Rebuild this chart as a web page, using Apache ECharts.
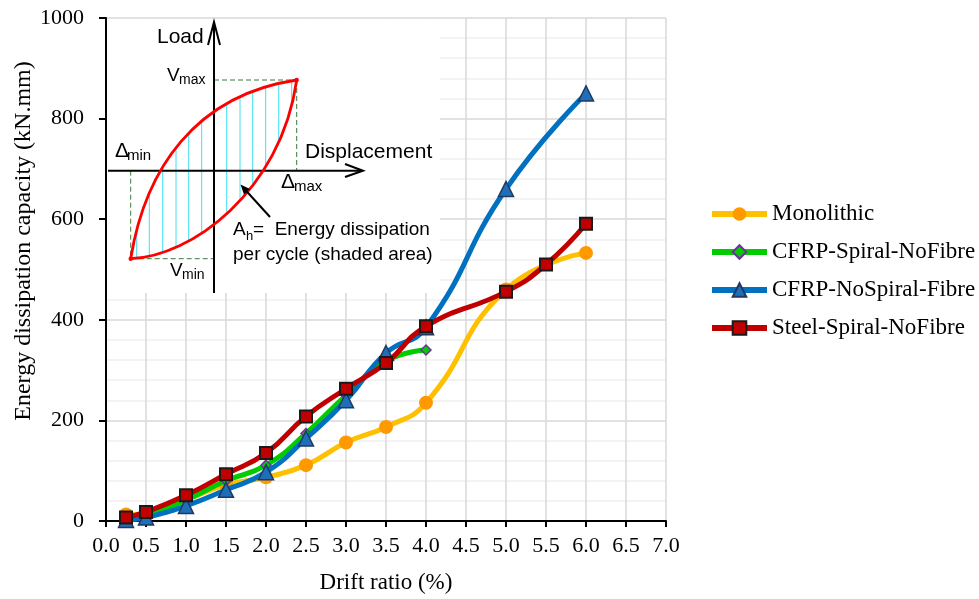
<!DOCTYPE html>
<html>
<head>
<meta charset="utf-8">
<script src="https://cdn.jsdelivr.net/npm/echarts@6/dist/echarts.min.js"></script>
<style>
html,body{margin:0;padding:0;background:#fff;}
#c{width:979px;height:599px;}
</style>
</head>
<body>
<div id="c"></div>
<script>
// ---- data ----
const seriesNames = ['Monolithic', 'CFRP-Spiral-NoFibre', 'CFRP-NoSpiral-Fibre', 'Steel-Spiral-NoFibre'];
const monolithic = [[0.25, 13], [0.5, 14], [1.0, 42], [1.5, 72], [2.0, 87], [2.5, 111], [3.0, 156], [3.5, 187], [4.0, 235], [5.0, 460], [6.0, 533]];
const cfrpSpiralNoFibre = [[0.25, 5], [0.5, 12], [1.0, 42], [1.5, 80], [2.0, 111], [2.5, 174], [3.0, 250], [3.5, 318], [4.0, 340]];
const cfrpNoSpiralFibre = [[0.25, 2], [0.5, 7], [1.0, 30], [1.5, 62], [2.0, 97], [2.5, 164], [3.0, 240], [3.5, 334], [4.0, 385], [5.0, 660], [6.0, 850]];
const steelSpiralNoFibre = [[0.25, 7], [0.5, 18], [1.0, 51], [1.5, 93], [2.0, 135], [2.5, 208], [3.0, 263], [3.5, 314], [4.0, 387], [5.0, 456], [5.5, 510], [6.0, 591]];
const xTickLabels = ['0.0','0.5','1.0','1.5','2.0','2.5','3.0','3.5','4.0','4.5','5.0','5.5','6.0','6.5','7.0'];
const yTickLabels = ['0','200','400','600','800','1000'];

const serif = 'Liberation Serif, Times New Roman, serif';
const sans = 'Liberation Sans, Arial, sans-serif';

// ---- inset (hysteresis sketch, decorative picture) ----
const P0 = [130.7, 258.7], P3 = [296.7, 80];
const upperCP = [[145, 170], [195, 95]];
const lowerCP = [[190, 257], [281, 192]];
function bez(c, t){
  const a=(1-t)*(1-t)*(1-t), b=3*(1-t)*(1-t)*t, d=3*(1-t)*t*t, e=t*t*t;
  return [a*P0[0]+b*c[0][0]+d*c[1][0]+e*P3[0], a*P0[1]+b*c[0][1]+d*c[1][1]+e*P3[1]];
}
function sample(c){ const r=[]; for(let i=0;i<=200;i++) r.push(bez(c,i/200)); return r; }
const upperPts = sample(upperCP), lowerPts = sample(lowerCP);
function interp(pts, x){
  for (let i=0;i<pts.length-1;i++){
    const a=pts[i], b=pts[i+1];
    if (x>=a[0] && x<=b[0]) { const t=(x-a[0])/((b[0]-a[0])||1); return a[1]+t*(b[1]-a[1]); }
  }
  return pts[pts.length-1][1];
}
const hatchX = [136.7,149.3,162.7,176,188.7,201.7,226.7,240,252.7,265.7,278.7,291.7];
const g = [];
g.push({type:'rect', z:100, shape:{x:107,y:19,width:333,height:274}, style:{fill:'#ffffff'}});
hatchX.forEach(x=>{
  g.push({type:'line', z:101, shape:{x1:x,y1:interp(upperPts,x),x2:x,y2:interp(lowerPts,x)}, style:{stroke:'#3fe0f0',lineWidth:1}});
});
const dash = {stroke:'#3d7a3d', lineWidth:1, lineDash:[5,3]};
g.push({type:'line', z:101, shape:{x1:214,y1:80,x2:296.7,y2:80}, style:dash});
g.push({type:'line', z:101, shape:{x1:296.7,y1:80,x2:296.7,y2:170.7}, style:dash});
g.push({type:'line', z:101, shape:{x1:130.7,y1:170.7,x2:130.7,y2:258.7}, style:dash});
g.push({type:'line', z:101, shape:{x1:130.7,y1:258.7,x2:214,y2:258.7}, style:dash});
// axes of sketch
g.push({type:'line', z:102, shape:{x1:214,y1:23,x2:214,y2:293}, style:{stroke:'#000',lineWidth:2}});
g.push({type:'line', z:102, shape:{x1:108,y1:170.7,x2:362,y2:170.7}, style:{stroke:'#000',lineWidth:2}});
g.push({type:'polyline', z:102, shape:{points:[[208,45],[214,22],[220,45]]}, style:{stroke:'#000',lineWidth:2,fill:null}});
g.push({type:'polyline', z:102, shape:{points:[[345,164],[363,170.7],[345,177]]}, style:{stroke:'#000',lineWidth:2,fill:null}});
// loop
g.push({type:'bezierCurve', z:103, shape:{x1:P0[0],y1:P0[1],cpx1:upperCP[0][0],cpy1:upperCP[0][1],cpx2:upperCP[1][0],cpy2:upperCP[1][1],x2:P3[0],y2:P3[1]}, style:{stroke:'#ff0000',lineWidth:2.8,fill:null}});
g.push({type:'bezierCurve', z:103, shape:{x1:P0[0],y1:P0[1],cpx1:lowerCP[0][0],cpy1:lowerCP[0][1],cpx2:lowerCP[1][0],cpy2:lowerCP[1][1],x2:P3[0],y2:P3[1]}, style:{stroke:'#ff0000',lineWidth:2.8,fill:null}});
g.push({type:'circle', z:103, shape:{cx:P3[0],cy:P3[1],r:2.2}, style:{fill:'#ff0000'}});
g.push({type:'circle', z:103, shape:{cx:P0[0],cy:P0[1],r:2.2}, style:{fill:'#ff0000'}});
// pointer arrow
g.push({type:'line', z:103, shape:{x1:270,y1:217,x2:245,y2:189.5}, style:{stroke:'#000',lineWidth:2}});
g.push({type:'polygon', z:103, shape:{points:[[240.5,184.5],[250,189],[244,194.5]]}, style:{fill:'#000'}});
function txt(t, x, y, size, align){
  g.push({type:'text', z:104, x:x, y:y, style:{text:t, fill:'#000', font: size+'px '+sans, textAlign:align||'left', textVerticalAlign:'middle'}});
}
txt('Load', 157, 37, 21);
txt('Displacement', 305, 152, 21);
txt('\u0394', 115, 151, 21); txt('min', 127, 156, 15);
txt('\u0394', 281, 182, 21); txt('max', 294, 187, 15);
txt('V', 167, 76, 19); txt('max', 179, 80, 14);
txt('V', 170, 271, 19); txt('min', 182, 275, 14);
txt('A', 233, 230, 19); txt('h', 246, 236, 13);
txt('=  Energy dissipation', 253, 230, 19);
txt('per cycle (shaded area)', 233, 255, 19);
// y axis title
g.push({type:'text', z:10, x:24, y:241, rotation:Math.PI/2, style:{text:'Energy dissipation capacity (kN.mm)', fill:'#000', font:'24px '+serif, textAlign:'center', textVerticalAlign:'middle'}});

const chart = echarts.init(document.getElementById('c'), null, {renderer:'canvas'});
chart.setOption({
  animation:false,
  backgroundColor:'#ffffff',
  grid:{left:106, right:313, top:18, bottom:77, containLabel:false},
  xAxis:{
    type:'value', min:0, max:7, interval:0.5,
    name:'Drift ratio (%)', nameLocation:'middle', nameGap:50,
    nameTextStyle:{fontFamily:serif, fontSize:23, color:'#000'},
    axisLine:{show:true, onZero:false, lineStyle:{color:'#000', width:2}},
    axisTick:{show:true, length:6, lineStyle:{color:'#000', width:2}},
    axisLabel:{fontFamily:serif, fontSize:22, color:'#000', margin:14,
      formatter:(v)=>{ const i=Math.round(v/0.5); return xTickLabels[i]; }},
    splitLine:{show:true, lineStyle:{color:'#d9d9d9', width:1.5}}
  },
  yAxis:{
    type:'value', min:0, max:1000, interval:200,
    axisLine:{show:true, lineStyle:{color:'#000', width:2}},
    axisTick:{show:true, length:7, lineStyle:{color:'#000', width:2}},
    axisLabel:{fontFamily:serif, fontSize:22, color:'#000', margin:22,
      formatter:(v)=>yTickLabels[Math.round(v/200)]},
    splitLine:{show:true, lineStyle:{color:'#d9d9d9', width:1.5}},
    minorTick:{show:false, splitNumber:5},
    minorSplitLine:{show:true, lineStyle:{color:'#efefef', width:1.5}}
  },
  legend:{
    orient:'vertical', left:704, top:197, itemWidth:55, itemHeight:17, itemGap:14,
    lineStyle:{width:6},
    textStyle:{fontFamily:serif, fontSize:23, color:'#000', lineHeight:24},
    data:seriesNames
  },
  graphic:g,
  series:[
    {name:seriesNames[0], type:'line', data:monolithic, smooth:0.5, symbol:'circle', symbolSize:14,
      lineStyle:{color:'#ffc000', width:5}, itemStyle:{color:'#ff9900', borderWidth:0}, z:2},
    {name:seriesNames[1], type:'line', data:cfrpSpiralNoFibre, smooth:0.5, symbol:'diamond', symbolSize:10,
      lineStyle:{color:'#00cc00', width:5}, itemStyle:{color:'#00cc00', borderColor:'#7030a0', borderWidth:1.5}, z:3},
    {name:seriesNames[2], type:'line', data:cfrpNoSpiralFibre, smooth:0.5, symbol:'triangle', symbolSize:15,
      lineStyle:{color:'#0070c0', width:5}, itemStyle:{color:'#1f6fb8', borderColor:'#1f3864', borderWidth:1.5}, z:4},
    {name:seriesNames[3], type:'line', data:steelSpiralNoFibre, smooth:0.5, symbol:'rect', symbolSize:12,
      lineStyle:{color:'#c00000', width:5}, itemStyle:{color:'#c00000', borderColor:'#1a1a1a', borderWidth:2}, z:5}
  ]
});
</script>
</body>
</html>
